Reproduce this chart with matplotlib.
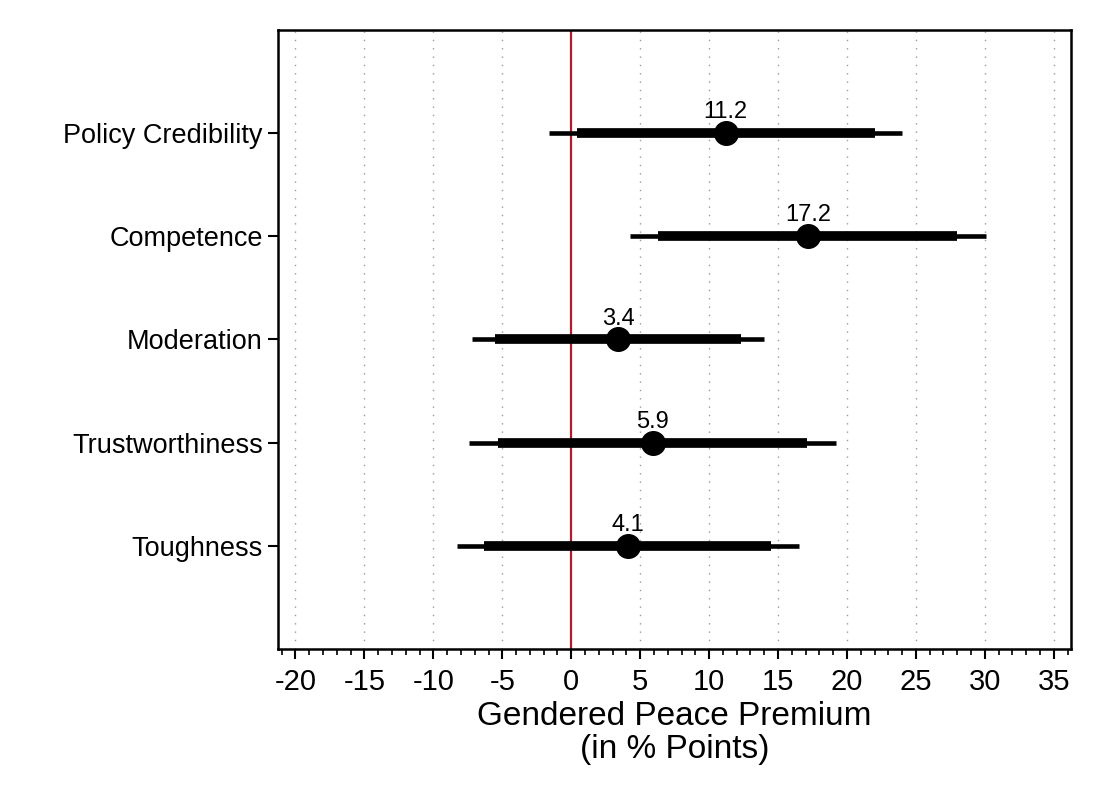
import matplotlib
matplotlib.use("Agg")
import matplotlib.pyplot as plt
from matplotlib.ticker import MultipleLocator

plt.rcParams['font.family'] = ['Liberation Sans', 'DejaVu Sans']

categories = ["Policy Credibility", "Competence", "Moderation", "Trustworthiness", "Toughness"]
estimates = [11.2, 17.2, 3.4, 5.9, 4.1]
ci90_low = [0.4, 6.3, -5.5, -5.3, -6.3]
ci90_high = [22.0, 28.0, 12.3, 17.1, 14.5]
ci95_low = [-1.6, 4.25, -7.2, -7.4, -8.3]
ci95_high = [24.0, 30.1, 14.0, 19.2, 16.5]
xticks = list(range(-20, 40, 5))

fig = plt.figure(figsize=(11, 8), dpi=100)
ax = fig.add_axes([0.2527, 0.1888, 0.9734 - 0.2527, 0.963 - 0.1888])

ypos = list(range(1, len(categories) + 1))

for x in xticks:
    if x != 0:
        ax.axvline(x, color='#9a9a9a', linestyle=(0, (1, 5)), linewidth=1.0, zorder=0)
ax.axvline(0, color='#b01c2e', linewidth=1.6, zorder=1)

ax.hlines(ypos, ci95_low, ci95_high, color='black', linewidth=3.3, zorder=2)
ax.hlines(ypos, ci90_low, ci90_high, color='black', linewidth=7.0, zorder=3)
ax.plot(estimates, ypos, 'o', color='black', markersize=17, zorder=4)

for e, y in zip(estimates, ypos):
    ax.annotate(f"{e:.1f}", (e, y), xytext=(0, 10.5), textcoords='offset points',
                ha='center', va='baseline', fontsize=17)

ax.set_xlim(-21.27, 36.23)
ax.set_ylim(6, 0)
ax.set_xticks(xticks)
ax.set_xticklabels([str(x) for x in xticks], fontsize=21)
ax.xaxis.set_minor_locator(MultipleLocator(1))
ax.set_yticks(ypos)
ax.set_yticklabels(categories, fontsize=19.5)

ax.tick_params(axis='x', which='major', length=7, width=1.5, direction='out', pad=7)
ax.tick_params(axis='x', which='minor', length=4, width=1.2, direction='out')
ax.tick_params(axis='y', which='major', length=7, width=1.5, direction='out', pad=4)

for s in ax.spines.values():
    s.set_linewidth(1.8)
    s.set_color('black')

ax.set_xlabel("Gendered Peace Premium\n(in % Points)", fontsize=24, linespacing=1.1, labelpad=3)

fig.savefig("out.png", dpi=100, facecolor='white')
